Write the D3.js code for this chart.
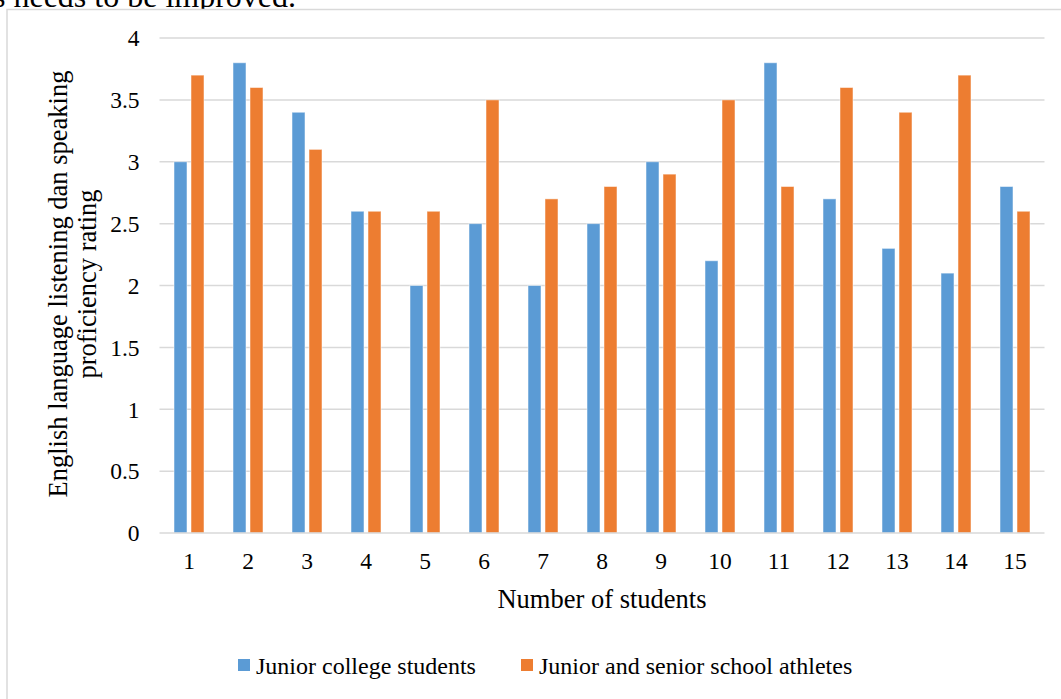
<!DOCTYPE html>
<html>
<head>
<meta charset="utf-8">
<script src="https://cdn.jsdelivr.net/npm/d3@7"></script>
<style>
  html, body { margin: 0; padding: 0; background: #fff; }
  svg { display: block; }
  text { font-family: "Liberation Serif", "Times New Roman", serif; fill: #000; }
</style>
</head>
<body>
<svg id="chart" width="1061" height="699"></svg>
<script>
// Student numbers along the x axis
const students = ["1","2","3","4","5","6","7","8","9","10","11","12","13","14","15"];
// Ratings per group
const juniorCollege = [3.0, 3.8, 3.4, 2.6, 2.0, 2.5, 2.0, 2.5, 3.0, 2.2, 3.8, 2.7, 2.3, 2.1, 2.8];
const schoolAthletes = [3.7, 3.6, 3.1, 2.6, 2.6, 3.5, 2.7, 2.8, 2.9, 3.5, 2.8, 3.6, 3.4, 3.7, 2.6];
const seriesNames = ["Junior college students", "Junior and senior school athletes"];
const seriesColors = ["#5B9BD5", "#ED7D31"];
const yTicks = [0, 0.5, 1, 1.5, 2, 2.5, 3, 3.5, 4];

const svg = d3.select("#chart");

// Tail of the preceding paragraph line
svg.append("text")
  .attr("x", -7).attr("y", 7)
  .style("font-size", "32px")
  .text("s needs to be improved.");

// Chart frame
svg.append("rect")
  .attr("x", 7).attr("y", 9.5)
  .attr("width", 1070).attr("height", 700)
  .attr("fill", "#fff").attr("stroke", "#D9D9D9").attr("stroke-width", 1.5);

const plot = { left: 159.5, right: 1044.5, top: 38, bottom: 533 };

const x = d3.scaleBand().domain(students).range([plot.left, plot.right]);
const y = d3.scaleLinear().domain([0, 4]).range([plot.bottom, plot.top]);

// Gridlines
svg.append("g").selectAll("line").data(yTicks.filter(d => d > 0)).join("line")
  .attr("x1", plot.left).attr("x2", plot.right)
  .attr("y1", d => y(d)).attr("y2", d => y(d))
  .attr("stroke", "#D9D9D9").attr("stroke-width", 1.5);

// Y tick labels
const yAxis = svg.append("g").attr("transform", `translate(${plot.left - 20},0)`)
  .call(d3.axisLeft(y).tickValues(yTicks).tickFormat(d3.format("")).tickSize(0).tickPadding(0));
yAxis.select(".domain").remove();
yAxis.selectAll("text").style("font-size", "23.5px").attr("dy", "0.33em")
  .style("font-family", "'Liberation Serif', serif").attr("fill", "#000");

// Bars
const barW = 13, gap = 4;
const data = [juniorCollege, schoolAthletes];
data.forEach((vals, si) => {
  svg.append("g").selectAll("rect").data(vals).join("rect")
    .attr("x", (d, i) => x(students[i]) + x.bandwidth() / 2 - barW - gap / 2 + si * (barW + gap))
    .attr("y", d => y(d))
    .attr("width", barW)
    .attr("height", d => y(0) - y(d))
    .attr("fill", seriesColors[si])
    .attr("stroke", "#ffffff").attr("stroke-opacity", 0.5).attr("stroke-width", 1);
});

// X axis baseline
svg.append("line")
  .attr("x1", plot.left).attr("x2", plot.right)
  .attr("y1", y(0)).attr("y2", y(0))
  .attr("stroke", "#D9D9D9").attr("stroke-width", 1.5);

// X tick labels
const xAxis = svg.append("g").attr("transform", `translate(0,${plot.bottom})`)
  .call(d3.axisBottom(x).tickSize(0));
xAxis.select(".domain").remove();
xAxis.selectAll("text").attr("y", 36).attr("dy", 0).style("font-size", "23.5px")
  .style("font-family", "'Liberation Serif', serif").attr("fill", "#000");

// Axis titles
svg.append("text")
  .attr("x", 602).attr("y", 608)
  .attr("text-anchor", "middle")
  .style("font-size", "26.5px")
  .text("Number of students");

const yTitle = svg.append("text")
  .attr("transform", "rotate(-90)")
  .attr("text-anchor", "middle")
  .style("font-size", "26.5px");
yTitle.append("tspan").attr("x", -284).attr("y", 67).text("English language listening dan speaking");
yTitle.append("tspan").attr("x", -284).attr("y", 96).text("proficiency rating");

// Legend
const legendItems = [
  { name: seriesNames[0], color: seriesColors[0], x: 238 },
  { name: seriesNames[1], color: seriesColors[1], x: 521 }
];
const lg = svg.append("g").selectAll("g").data(legendItems).join("g")
  .attr("transform", d => `translate(${d.x},659)`);
lg.append("rect").attr("width", 12).attr("height", 12).attr("fill", d => d.color);
lg.append("text").attr("x", 18).attr("y", 15).style("font-size", "24px").text(d => d.name);
</script>
</body>
</html>
